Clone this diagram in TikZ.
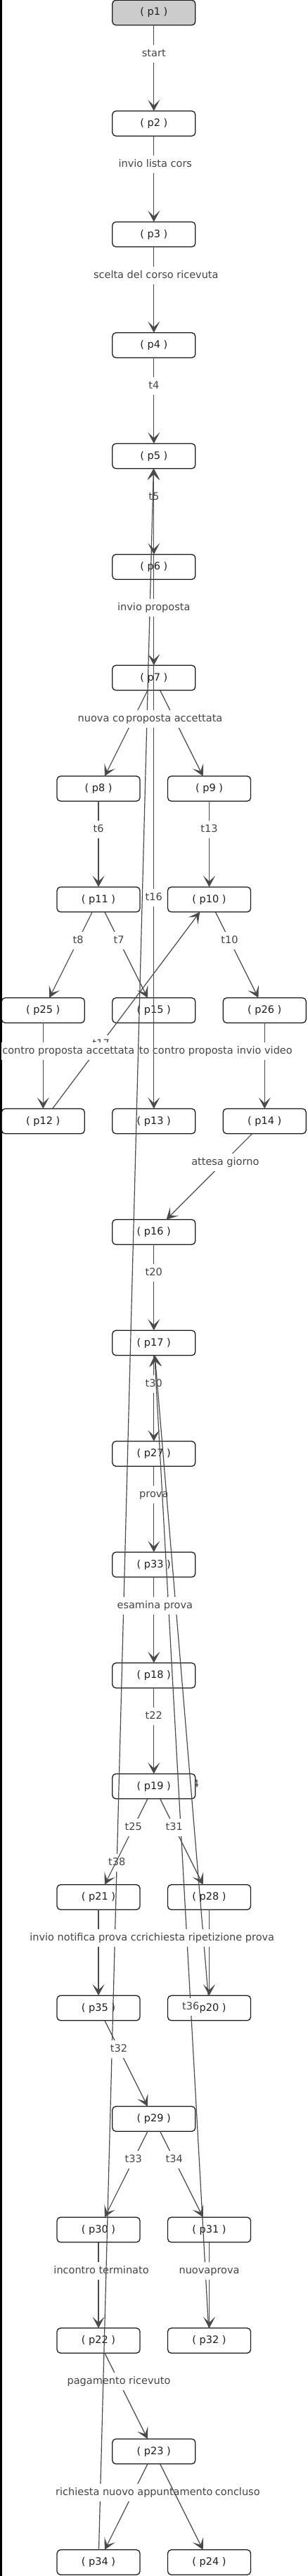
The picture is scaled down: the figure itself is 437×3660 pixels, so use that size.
\documentclass[tikz,border=0pt]{standalone}
\usepackage{fontspec}
\setmainfont{DejaVu Sans}
\usepackage{xcolor}
\definecolor{NetInk}{HTML}{1E1E1E}
\definecolor{NetLine}{HTML}{4A4A4A}
\definecolor{NetLabel}{HTML}{444444}
\definecolor{NetStart}{HTML}{CCCCCC}
\usepackage{tikz}
\usetikzlibrary{positioning,arrows.meta}
\pgfdeclarelayer{back}
\pgfsetlayers{back,main}
\tikzset{
  pbox/.style={draw=NetInk,fill=white,line width=1.3pt,rounded corners=5pt,minimum width=118pt,minimum height=35.5pt,inner sep=0pt,outer sep=0pt,text=NetInk,font=\fontsize{14.5}{16}\selectfont},
  pstart/.style={pbox,fill=NetStart},
  pflow/.style={-{Stealth[length=16pt,width=17pt,inset=8pt]},draw=NetLine,line width=1.2pt},
  plabel/.style={fill=white,text=NetLabel,inner xsep=1.5pt,inner ysep=5.5pt,text height=11pt,text depth=3pt,font=\fontsize{14.5}{16}\selectfont,pos=.33}
}
\begin{document}
\begin{tikzpicture}[x=1pt,y=-1pt,node distance=122pt]
  \useasboundingbox (0,0) rectangle (437,3660);
  \fill[black] (0,0) rectangle (2.7,3660);
  \node[pstart] (p1) at (218.8,18) {( p1 )};
  \node[pbox,below=of p1] (p2) {( p2 )};
  \node[pbox,below=of p2] (p3) {( p3 )};
  \node[pbox,below=of p3] (p4) {( p4 )};
  \node[pbox,below=of p4] (p5) {( p5 )};
  \node[pbox,below=of p5] (p6) {( p6 )};
  \node[pbox,below=of p6] (p7) {( p7 )};
  \node[pbox,below=of p7,xshift=-78.75pt] (p8) {( p8 )};
  \node[pbox,below=of p7,xshift=78.75pt] (p9) {( p9 )};
  \node[pbox,below=of p8] (p11) {( p11 )};
  \node[pbox,below=of p9] (p10) {( p10 )};
  \node[pbox,below=of p11,xshift=-78.75pt] (p25) {( p25 )};
  \node[pbox,below=of p11,xshift=78.75pt] (p15) {( p15 )};
  \node[pbox,below=of p10,xshift=78.75pt] (p26) {( p26 )};
  \node[pbox,below=of p25] (p12) {( p12 )};
  \node[pbox,below=of p15] (p13) {( p13 )};
  \node[pbox,below=of p26] (p14) {( p14 )};
  \node[pbox,below=of p13] (p16) {( p16 )};
  \node[pbox,below=of p16] (p17) {( p17 )};
  \node[pbox,below=of p17] (p27) {( p27 )};
  \node[pbox,below=of p27] (p33) {( p33 )};
  \node[pbox,below=of p33] (p18) {( p18 )};
  \node[pbox,below=of p18] (p19) {( p19 )};
  \node[pbox,below=of p19,xshift=-78.75pt] (p21) {( p21 )};
  \node[pbox,below=of p19,xshift=78.75pt] (p28) {( p28 )};
  \node[pbox,below=of p21] (p35) {( p35 )};
  \node[pbox,below=of p28] (p20) {( p20 )};
  \node[pbox,below=of p35,xshift=78.75pt] (p29) {( p29 )};
  \node[pbox,below=of p29,xshift=-78.75pt] (p30) {( p30 )};
  \node[pbox,below=of p29,xshift=78.75pt] (p31) {( p31 )};
  \node[pbox,below=of p30] (p22) {( p22 )};
  \node[pbox,below=of p31] (p32) {( p32 )};
  \node[pbox,below=of p22,xshift=78.75pt] (p23) {( p23 )};
  \node[pbox,below=of p23,xshift=-78.75pt] (p34) {( p34 )};
  \node[pbox,below=of p23,xshift=78.75pt] (p24) {( p24 )};

  \draw[pflow] (p1) -- node[plabel]{start} (p2);
  \draw[pflow] (p2) -- node[plabel,xshift=2pt]{invio lista cors} (p3);
  \draw[pflow] (p3) -- node[plabel,xshift=3pt]{scelta del corso ricevuta} (p4);
  \draw[pflow] (p4) -- node[plabel]{t4} (p5);
  \draw[pflow] (p5) -- node[plabel]{t5} (p6);
  \draw[pflow] (p15) -- node[plabel,xshift=46pt]{to contro proposta} (p13);
  \draw[pflow] (p17) -- node[plabel]{t30} (p27);
  \draw[pflow] (p27) -- node[plabel]{prova} (p33);
  \draw[pflow] (p30) -- node[plabel,xshift=4pt]{incontro terminato} (p22);
  \draw[pflow] (p22) -- node[plabel]{pagamento ricevuto} (p23);

  \draw[pflow] (p13) -- node[plabel]{t16} (p5);
  \draw[pflow] (p34) -- node[plabel]{t38} (p5);
  \draw[pflow] (p32) -- node[plabel]{t36} (p17);
  \draw[pflow] (p20) -- (p17);
  \begin{pgfonlayer}{back}
    \path (p20) -- node[plabel]{t24} (p17);
  \end{pgfonlayer}
  \draw[pflow] (p12) -- node[plabel]{t17} (p10);

  \draw[pflow] (p6) -- node[plabel]{invio proposta} (p7);
  \draw[pflow] (p7) -- node[plabel,xshift=-46pt]{nuova co} (p8);
  \draw[pflow] (p7) -- node[plabel]{proposta accettata} (p9);
  \draw[pflow] (p8) -- node[plabel]{t6} (p11);
  \draw[pflow] (p9) -- node[plabel]{t13} (p10);
  \draw[pflow] (p11) -- node[plabel]{t8} (p25);
  \draw[pflow] (p11) -- node[plabel]{t7} (p15);
  \draw[pflow] (p10) -- node[plabel]{t10} (p26);
  \draw[pflow] (p25) -- node[plabel,xshift=36pt]{contro proposta accettata} (p12);
  \draw[pflow] (p26) -- node[plabel]{invio video} (p14);
  \draw[pflow] (p14) -- node[plabel,xshift=2pt]{attesa giorno} (p16);
  \draw[pflow] (p16) -- node[plabel]{t20} (p17);
  \draw[pflow] (p33) -- node[plabel,xshift=1.5pt]{esamina prova} (p18);
  \draw[pflow] (p18) -- node[plabel]{t22} (p19);
  \draw[pflow] (p19) -- node[plabel]{t25} (p21);
  \draw[pflow] (p19) -- node[plabel]{t31} (p28);
  \draw[pflow] (p21) -- node[plabel,xshift=-17.5pt]{invio notifica prova co} (p35);
  \draw[pflow] (p28) -- node[plabel,xshift=-2pt]{richiesta ripetizione prova} (p20);
  \draw[pflow] (p35) -- node[plabel]{t32} (p29);
  \draw[pflow] (p29) -- node[plabel]{t33} (p30);
  \draw[pflow] (p29) -- node[plabel]{t34} (p31);
  \draw[pflow] (p31) -- node[plabel]{nuovaprova} (p32);
  \draw[pflow] (p23) -- node[plabel,xshift=1pt]{richiesta nuovo appuntamento} (p34);
  \draw[pflow] (p23) -- node[plabel,xshift=90pt]{concluso} (p24);
\end{tikzpicture}
\end{document}
